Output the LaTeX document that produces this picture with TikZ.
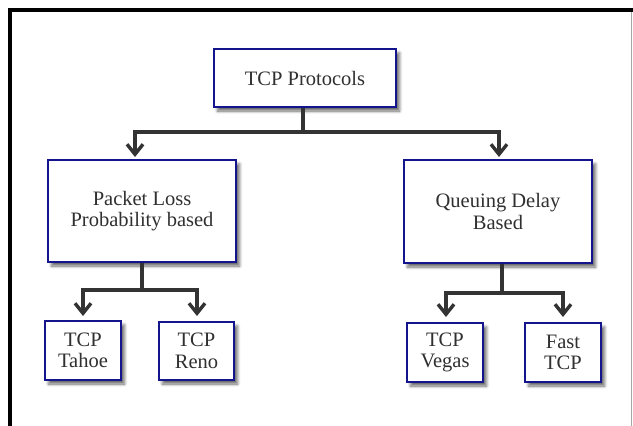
\documentclass[tikz,border=0pt]{standalone}
\usepackage{fontspec}
\setmainfont{Liberation Serif}
\usetikzlibrary{arrows.meta,shadows.blur}
\definecolor{boxblue}{HTML}{14148C}
\definecolor{inkgray}{HTML}{303030}
\definecolor{linegray}{HTML}{333333}
\tikzset{
  pbox/.style={draw=boxblue, line width=2.3pt, fill=white, align=center,
    text=inkgray, inner sep=0pt,
    font=\fontsize{20.5}{21.5}\selectfont,
    blur shadow={shadow xshift=3.5pt, shadow yshift=-4pt, shadow blur radius=3pt,
      shadow blur steps=6, shadow opacity=60}},
  conn/.style={draw=linegray, line width=3.2pt},
  arr/.style={conn, -{Straight Barb[length=10pt,width=16pt,line width=3.4pt]}}
}
\begin{document}
\begin{tikzpicture}[x=1pt,y=-1pt]
  \useasboundingbox (0,0) rectangle (633,426);
  % outer frame
  \draw[gray!70, line width=1.6pt] (631.5,10) -- (631.5,426);
  \draw[black, line width=3.4pt] (10,426) -- (10,10) -- (633,10);

  % boxes
  \node[pbox, minimum width=182pt, minimum height=58pt] (top) at (305,78) {TCP Protocols};
  \node[pbox, minimum width=188pt, minimum height=102pt] (plb) at (142,211) {Packet Loss\\Probability based};
  \node[pbox, minimum width=188pt, minimum height=103pt] (qdb) at (498,211.5) {Queuing Delay\\Based};
  \node[pbox, minimum width=76pt, minimum height=59pt] (tahoe) at (83,350.5) {TCP\\Tahoe};
  \node[pbox, minimum width=75pt, minimum height=58pt] (reno) at (196.5,351) {TCP\\Reno};
  \node[pbox, minimum width=76pt, minimum height=59pt] (vegas) at (445,352.5) {TCP\\Vegas};
  \node[pbox, minimum width=76pt, minimum height=59pt] (fast) at (563,352.5) {Fast\\TCP};

  % junction points and arrow ends
  \coordinate (j0) at (303,132);
  \coordinate (t1) at (135,157);
  \coordinate (t2) at (499,157);
  \coordinate (j1) at (142,290);
  \coordinate (t3) at (83,316);
  \coordinate (t4) at (197,316);
  \coordinate (j2) at (502,293);
  \coordinate (t5) at (446,317);
  \coordinate (t6) at (563,317);

  % connectors
  \draw[conn] (top.south -| j0) -- (j0);
  \draw[arr] (j0) -| (t1);
  \draw[arr] (j0) -| (t2);
  \draw[conn] (plb.south -| j1) -- (j1);
  \draw[arr] (j1) -| (t3);
  \draw[arr] (j1) -| (t4);
  \draw[conn] (qdb.south -| j2) -- (j2);
  \draw[arr] (j2) -| (t5);
  \draw[arr] (j2) -| (t6);
\end{tikzpicture}
\end{document}
